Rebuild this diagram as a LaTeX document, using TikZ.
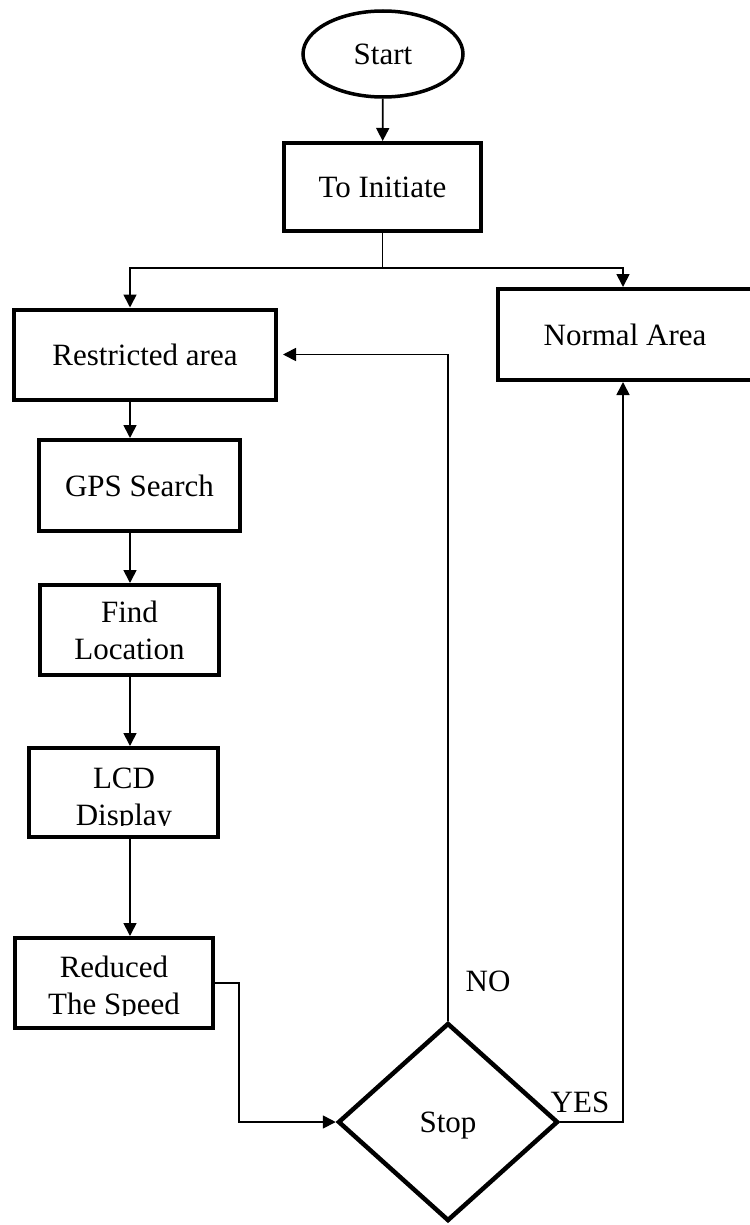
\documentclass[tikz,border=0pt]{standalone}
\usepackage{fontspec}
\setmainfont{Liberation Serif}
\usetikzlibrary{shapes.geometric,arrows.meta}
\begin{document}
\begin{tikzpicture}[x=1pt,y=-1pt,
  box/.style={draw,line width=4pt,rectangle,inner sep=0pt,align=center,
    font=\fontsize{31}{37}\selectfont},
  lbl/.style={inner sep=0pt,font=\fontsize{31}{37}\selectfont},
  conn/.style={line width=1.7pt,-{Triangle[length=13pt,width=13pt]}},
  wire/.style={line width=1.3pt}]
\useasboundingbox (0,0) rectangle (749,1225);
% nodes
\node[draw,ellipse,line width=3.5pt,inner sep=0pt,minimum width=160pt,minimum height=86pt,
  font=\fontsize{31}{37}\selectfont,text depth=0pt] (start) at (383,54) {Start};
\node[box,minimum width=197pt,minimum height=88pt,text depth=0pt] (init) at (382.5,187) {To Initiate};
\node[box,minimum width=262pt,minimum height=90pt,text depth=0pt] (restr) at (145,354.5) {Restricted area};
\node[box,minimum width=254pt,minimum height=91pt,text depth=0pt] (normal) at (625,334.5) {Normal Area};
\node[box,minimum width=201pt,minimum height=91pt,text depth=0pt] (gps) at (139.5,485.5) {GPS Search};
\node[box,minimum width=179pt,minimum height=90pt] (find) at (129.5,630) {Find\\Location};
\node[box,minimum width=189pt,minimum height=89pt] (lcd) at (123.5,792.5) {};
\node[box,minimum width=198pt,minimum height=90pt] (red) at (114,983) {};
\node[draw,diamond,line width=4.5pt,inner sep=0pt,minimum width=220pt,minimum height=198pt,
  font=\fontsize{31}{37}\selectfont,text depth=0pt] (stop) at (448,1122) {Stop};
% clipped texts
\begin{scope}
  \clip (30,749) rectangle (218,825);
  \node[lbl,anchor=base] (lcdt1) at (124,788) {LCD};
  \node[lbl,anchor=base] (lcdt2) at (124,825) {Display};
\end{scope}
\begin{scope}
  \clip (16,939) rectangle (212,1015);
  \node[lbl,anchor=base] (redt1) at (114,977) {Reduced};
  \node[lbl,anchor=base] (redt2) at (114,1014) {The Speed};
\end{scope}
\node[lbl,anchor=base] (no) at (488,991) {NO};
\node[lbl,anchor=base] (yes) at (580,1112) {YES};
% coordinates
\coordinate (br) at (382.5,268);
\coordinate (bl) at (130,268);
\coordinate (brr) at (623,268);
\coordinate (rx) at (239,0);
% connectors
\draw[conn] (start) -- (init);
\draw[wire] (init.south) -- (br);
\draw[conn] (br) -- (bl) -- (bl |- restr.north);
\draw[conn] (br) -- (brr) -- (brr |- normal.north);
\draw[conn] (restr.south -| bl) -- (gps.north -| bl);
\draw[conn] (gps.south -| bl) -- (find.north -| bl);
\draw[conn] (find.south -| bl) -- (lcd.north -| bl);
\draw[conn] (lcd.south -| bl) -- (red.north -| bl);
\draw[conn] (red.east) -- (rx |- red.east) -- (rx |- stop.west) -- (stop.west);
\draw[conn,shorten >=5pt] (stop.north) |- (restr.east);
\draw[conn] (stop.east) -- (brr |- stop.east) -- (brr |- normal.south);
\end{tikzpicture}
\end{document}
